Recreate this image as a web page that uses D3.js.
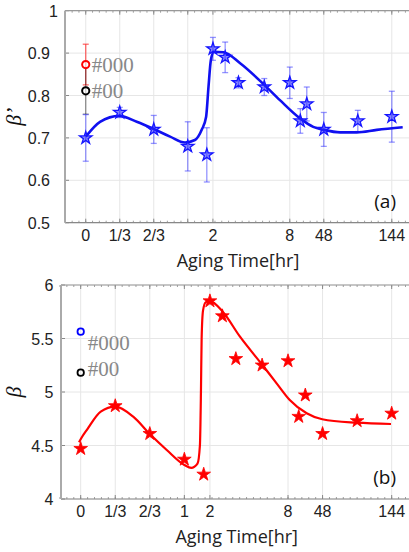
<!DOCTYPE html>
<html><head><meta charset="utf-8">
<script src="https://cdn.jsdelivr.net/npm/d3@7"></script>
<style>
body{margin:0;background:#fff;}
svg{display:block;}
.tick{font-family:"Liberation Sans Narrow","Arial Narrow","Liberation Sans",Arial,sans-serif;font-size:16px;fill:#222;}
.axlabel{font-family:"Open Sans",sans-serif;font-size:18px;fill:#222;}
.panel{font-family:"Open Sans",sans-serif;font-size:19px;fill:#111;}
.ref{font-family:"Liberation Serif","Times New Roman",serif;font-size:21px;fill:#888;}
.ylab{font-family:"Liberation Serif","Times New Roman",serif;font-style:italic;font-size:22px;fill:#111;}
</style></head>
<body>
<svg id="chart" width="409" height="552"></svg>
<script>
// ---------- data ----------
const xPos = [0, 1, 2, 3, 3.56, 3.74, 4.1, 4.49, 5.25, 6, 6.31, 6.5, 7, 8, 9];
const betaPrime    = [0.70, 0.76, 0.72, 0.68, 0.66, 0.91, 0.89, 0.83, 0.82, 0.83, 0.74, 0.78, 0.72, 0.74, 0.75];
const betaPrimeErr = [0.055, 0.012, 0.033, 0.058, 0.064, 0.027, 0.036, 0.012, 0.02, 0.037, 0.029, 0.04, 0.04, 0.025, 0.06];
const beta = [4.47, 4.87, 4.61, 4.37, 4.23, 5.85, 5.71, 5.31, 5.25, 5.29, 4.77, 4.97, 4.61, 4.73, 4.80];

const fitAx = [0, 0.42, 0.99, 1.5, 2, 2.48, 2.92, 3.21, 3.41, 3.54, 3.61, 3.68, 3.77, 4.05, 4.54, 5.25, 5.71, 6.3, 6.69, 7, 7.48, 7.97, 8.56, 9.32];
const fitAy = [0.703, 0.738, 0.752, 0.738, 0.721, 0.703, 0.689, 0.695, 0.719, 0.75, 0.821, 0.884, 0.903, 0.902, 0.876, 0.825, 0.789, 0.746, 0.726, 0.719, 0.713, 0.713, 0.719, 0.725];
const fitBx = [-0.05, 0.02, 0.19, 0.58, 1.0, 1.52, 2, 2.49, 3.0, 3.2, 3.38, 3.45, 3.48, 3.5, 3.54, 3.62, 3.74, 4.11, 4.61, 5.26, 5.67, 6.05, 6.54, 6.99, 7.99, 8.98];
const fitBy = [4.53, 4.57, 4.651, 4.816, 4.863, 4.769, 4.607, 4.458, 4.318, 4.29, 4.33, 4.5, 5.0, 5.5, 5.76, 5.84, 5.85, 5.75, 5.517, 5.252, 5.081, 4.925, 4.801, 4.745, 4.713, 4.701];

const refLabels = ["#000", "#00"];
const refA = [0.873, 0.811];
const refAErr = [0.048, 0.055];
const refB = [5.564, 5.181];

const xTickPos = [0, 1, 2, 3, 3.74, 6, 7, 9];
const xTickLabelsA = ["0", "1/3", "2/3", "", "2", "8", "48", "144"];
const xTickLabelsB = ["0", "1/3", "2/3", "1", "2", "8", "48", "144"];
const yTicksA = [0.5, 0.6, 0.7, 0.8, 0.9, 1];
const yTicksB = [4, 4.5, 5, 5.5, 6];

// ---------- drawing ----------
const svg = d3.select("#chart");

function panel(o){
  const g = svg.append("g");
  const x = d3.scaleLinear().domain(o.xdom).range([o.left, o.right]);
  const y = d3.scaleLinear().domain(o.ydom).range([o.bottom, o.top]);
  g.selectAll(".vg").data(xTickPos).join("line")
    .attr("x1", d => x(d)).attr("x2", d => x(d)).attr("y1", o.top).attr("y2", o.bottom)
    .attr("stroke", "#e6e6e6").attr("stroke-width", 1);
  g.selectAll(".hg").data(o.yticks).join("line")
    .attr("x1", o.left).attr("x2", o.right).attr("y1", d => y(d)).attr("y2", d => y(d))
    .attr("stroke", "#e6e6e6").attr("stroke-width", 1);
  const minor = d3.range(-0.6, 9.5, 0.2);
  [o.top, o.bottom].forEach((yy, i) => {
    const s = i === 0 ? 1 : -1;
    g.selectAll(null).data(minor).join("line")
      .attr("x1", d => x(d)).attr("x2", d => x(d)).attr("y1", yy).attr("y2", yy + s * 2)
      .attr("stroke", "#888").attr("stroke-width", 0.8);
    g.selectAll(null).data(xTickPos).join("line")
      .attr("x1", d => x(d)).attr("x2", d => x(d)).attr("y1", yy).attr("y2", yy + s * 4)
      .attr("stroke", "#888").attr("stroke-width", 1);
  });
  g.selectAll(null).data(o.yticks).join("line")
    .attr("x1", o.left).attr("x2", o.left + 4).attr("y1", d => y(d)).attr("y2", d => y(d))
    .attr("stroke", "#888");
  g.append("line").attr("x1", o.left).attr("x2", o.right).attr("y1", o.top).attr("y2", o.top).attr("stroke", "#999").attr("stroke-width", 1.2);
  g.append("line").attr("x1", o.left).attr("x2", o.right).attr("y1", o.bottom).attr("y2", o.bottom).attr("stroke", "#888").attr("stroke-width", 1.2);
  g.append("line").attr("x1", o.left).attr("x2", o.left).attr("y1", o.top).attr("y2", o.bottom).attr("stroke", "#aaa").attr("stroke-width", 2);
  g.selectAll(null).data(xTickPos).join("text").attr("class", "tick")
    .attr("x", d => x(d)).attr("y", o.bottom + 18).attr("text-anchor", "middle")
    .text((d, i) => o.xlabels[i]);
  g.selectAll(null).data(o.yticks).join("text").attr("class", "tick")
    .attr("x", d => o.ylabx + (o.intShift && Number.isInteger(d) ? o.intShift : 0))
    .attr("y", d => y(d) + 6).attr("text-anchor", "end")
    .text(d => o.yfmt(d));
  g.append("text").attr("class", "axlabel").attr("x", o.xlabX).attr("y", o.bottom + 44)
    .attr("text-anchor", "middle").text("Aging Time[hr]");
  g.append("text").attr("class", "ylab")
    .attr("transform", `translate(21,${(o.top + o.bottom) / 2}) rotate(-90)`)
    .attr("text-anchor", "middle").text(o.ylabel);
  g.append("text").attr("class", "panel").attr("x", o.right - 14).attr("y", o.bottom - 15)
    .attr("text-anchor", "end").text(o.tag);
  return {g, x, y};
}

// ---- panel (a)
const A = panel({left: 65, right: 410, top: 10.7, bottom: 222.7, xdom: [-0.61, 9.535], ydom: [0.5, 1],
  yticks: yTicksA, xlabels: xTickLabelsA, ylabx: 50, intShift: 8, yfmt: d3.format(".1~f"),
  xlabX: 238, ylabel: "β’", tag: "(a)"});
{
  const {g, x, y} = A;
  const pts = xPos.map((d, i) => ({x: d, v: betaPrime[i], e: betaPrimeErr[i]}));
  const ec = "rgba(60,60,255,0.55)";
  const refCol = ["rgba(255,40,40,0.75)", "rgba(0,0,0,0.45)"];
  const refStroke = ["#f00", "#000"];
  refA.forEach((v, i) => {
    const e = refAErr[i], cx = x(0);
    g.append("line").attr("x1", cx).attr("x2", cx).attr("y1", y(v - e)).attr("y2", y(v + e)).attr("stroke", refCol[i]).attr("stroke-width", 1.2);
    [v - e, v + e].forEach(c => g.append("line").attr("x1", cx - 3).attr("x2", cx + 3).attr("y1", y(c)).attr("y2", y(c)).attr("stroke", refCol[i]).attr("stroke-width", 1.2));
  });
  g.selectAll(null).data(pts).join("line")
    .attr("x1", d => x(d.x)).attr("x2", d => x(d.x)).attr("y1", d => y(d.v - d.e)).attr("y2", d => y(d.v + d.e))
    .attr("stroke", ec).attr("stroke-width", 1.3);
  pts.forEach(d => [d.v - d.e, d.v + d.e].forEach(c =>
    g.append("line").attr("x1", x(d.x) - 3).attr("x2", x(d.x) + 3).attr("y1", y(c)).attr("y2", y(c)).attr("stroke", ec).attr("stroke-width", 1.3)));
  const line = d3.line().x(d => x(d)).y((d, i) => y(fitAy[i])).curve(d3.curveMonotoneX);
  g.append("path").attr("d", line(fitAx)).attr("fill", "none").attr("stroke", "#1010f0").attr("stroke-width", 2.6);
  const star = d3.symbol().type(d3.symbolStar).size(48);
  g.selectAll(null).data(pts).join("path").attr("d", star)
    .attr("transform", d => `translate(${x(d.x)},${y(d.v)})`)
    .attr("fill", "rgba(40,40,255,0.55)").attr("stroke", "#1515ff").attr("stroke-width", 1.3);
  refA.forEach((v, i) => {
    g.append("circle").attr("cx", x(0)).attr("cy", y(v)).attr("r", 3.6).attr("fill", "#fff").attr("fill-opacity", 0.6)
      .attr("stroke", refStroke[i]).attr("stroke-width", 2);
    g.append("text").attr("class", "ref").attr("x", x(0) + 6).attr("y", y(v) + 7).text(refLabels[i]);
  });
}

// ---- panel (b)
const B = panel({left: 61, right: 410, top: 285, bottom: 499, xdom: [-0.57, 9.53], ydom: [4, 6],
  yticks: yTicksB, xlabels: xTickLabelsB, ylabx: 53.5, intShift: 0, yfmt: d3.format(".1~f"),
  xlabX: 236.7, ylabel: "β", tag: "(b)"});
{
  const {g, x, y} = B;
  const line = d3.line().x(d => x(d)).y((d, i) => y(fitBy[i])).curve(d3.curveMonotoneX);
  g.append("path").attr("d", line(fitBx)).attr("fill", "none").attr("stroke", "#f00").attr("stroke-width", 2.2);
  const star = d3.symbol().type(d3.symbolStar).size(58);
  g.selectAll(null).data(xPos).join("path").attr("d", star)
    .attr("transform", (d, i) => `translate(${x(d)},${y(beta[i])})`)
    .attr("fill", "#f00").attr("stroke", "#f00").attr("stroke-width", 0.8);
  const refStroke = ["#0000ff", "#000"];
  const labOff = [11, -4];
  refB.forEach((v, i) => {
    g.append("circle").attr("cx", x(0)).attr("cy", y(v)).attr("r", 3.2).attr("fill", "none")
      .attr("stroke", refStroke[i]).attr("stroke-width", 1.8);
    g.append("text").attr("class", "ref").attr("x", x(0) + 7).attr("y", y(v) + labOff[i] + 7).text(refLabels[i]);
  });
}
</script>
</body></html>
